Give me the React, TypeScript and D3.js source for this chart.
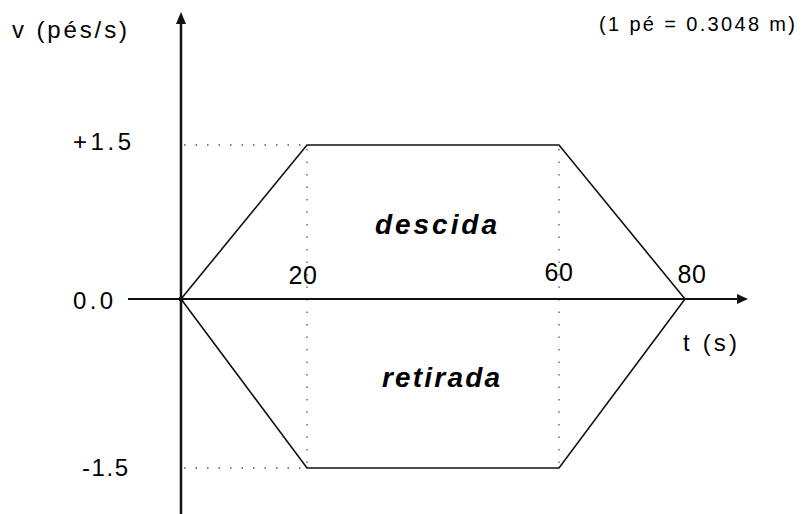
import React from "react";
import * as d3 from "d3";

const times = [0, 20, 60, 80];
const descida = [0, 1.5, 1.5, 0];
const retirada = [0, -1.5, -1.5, 0];
const tTicks = [20, 60, 80];
const vTicks = [1.5, 0, -1.5];
const vTickLabels = ["+1.5", "0.0", "-1.5"];
const dotTimes = [20, 60];

const W = 804;
const H = 514;
const FONT = "'Liberation Sans', Arial, Helvetica, sans-serif";

export default function App() {
  const x = d3.scaleLinear().domain([0, 80]).range([181, 685]);
  const y = d3.scaleLinear().domain([-1.5, 0, 1.5]).range([468, 299, 145]);

  const line = d3
    .line<number>()
    .x((_, i) => x(times[i]))
    .y((d) => y(d));

  const x0 = x(0);
  const y0 = y(0);

  const vLabel = (v: number, i: number) => {
    const widths = [58, 40, 46];
    const rights = [x0 - 50, x0 - 68, x0 - 53];
    const base = y(v) + (v > 0 ? 5 : v < 0 ? 8 : 10);
    return (
      <text
        key={"v" + i}
        x={rights[i] - widths[i]}
        y={base}
        textLength={widths[i]}
        lengthAdjust="spacing"
        fontSize={24}
        fontFamily={FONT}
      >
        {vTickLabels[i]}
      </text>
    );
  };

  return (
    <svg
      width={W}
      height={H}
      style={{ position: "absolute", left: 0, top: 0, background: "#fff" }}
    >
      <rect x={0} y={0} width={W} height={H} fill="#fff" />

      {[1.5, -1.5].map((v) => (
        <line
          key={"h" + v}
          x1={x0 + 3}
          x2={x(20)}
          y1={y(v)}
          y2={y(v)}
          stroke="#555"
          strokeWidth={1.3}
          strokeDasharray="1.5 10"
        />
      ))}
      {dotTimes.map((t) => (
        <line
          key={"dv" + t}
          x1={x(t)}
          x2={x(t)}
          y1={y(1.5) + 4}
          y2={y(-1.5)}
          stroke="#555"
          strokeWidth={1.3}
          strokeDasharray="1.5 11"
        />
      ))}

      <path d={line(descida) || ""} fill="none" stroke="#111" strokeWidth={1.6} />
      <path d={line(retirada) || ""} fill="none" stroke="#111" strokeWidth={1.6} />

      <line x1={128} x2={740} y1={y0} y2={y0} stroke="#111" strokeWidth={2} />
      <path d={`M748,${y0} L737,${y0 - 5} L737,${y0 + 5} Z`} fill="#111" />
      <line x1={x0} x2={x0} y1={20} y2={H} stroke="#111" strokeWidth={2.5} />
      <path d={`M${x0},12 L${x0 - 5},24 L${x0 + 5},24 Z`} fill="#111" />
      <circle cx={x0} cy={y0} r={2.5} fill="#111" />

      {vTicks.map((v, i) => vLabel(v, i))}

      {tTicks.map((t) => (
        <text
          key={"t" + t}
          x={x(t) + (t === 80 ? 7 : t === 20 ? -4 : 0)}
          y={t === 20 ? 284 : t === 60 ? 281 : 283}
          textAnchor="middle"
          fontSize={25}
          letterSpacing={0.5}
          fontFamily={FONT}
        >
          {t}
        </text>
      ))}

      <text x={12} y={38} textLength={115} lengthAdjust="spacing" fontSize={24} fontFamily={FONT}>
        v (pés/s)
      </text>
      <text x={683} y={351} textLength={54} lengthAdjust="spacing" fontSize={24} fontFamily={FONT}>
        t (s)
      </text>
      <text x={599} y={31} textLength={196} lengthAdjust="spacing" fontSize={20} fontFamily={FONT}>
        (1 pé = 0.3048 m)
      </text>

      <text
        x={375}
        y={234}
        textLength={122}
        lengthAdjust="spacing"
        fontSize={28}
        fontWeight="bold"
        fontStyle="italic"
        fontFamily={FONT}
      >
        descida
      </text>
      <text
        x={382}
        y={387}
        textLength={118}
        lengthAdjust="spacing"
        fontSize={28}
        fontWeight="bold"
        fontStyle="italic"
        fontFamily={FONT}
      >
        retirada
      </text>
    </svg>
  );
}
